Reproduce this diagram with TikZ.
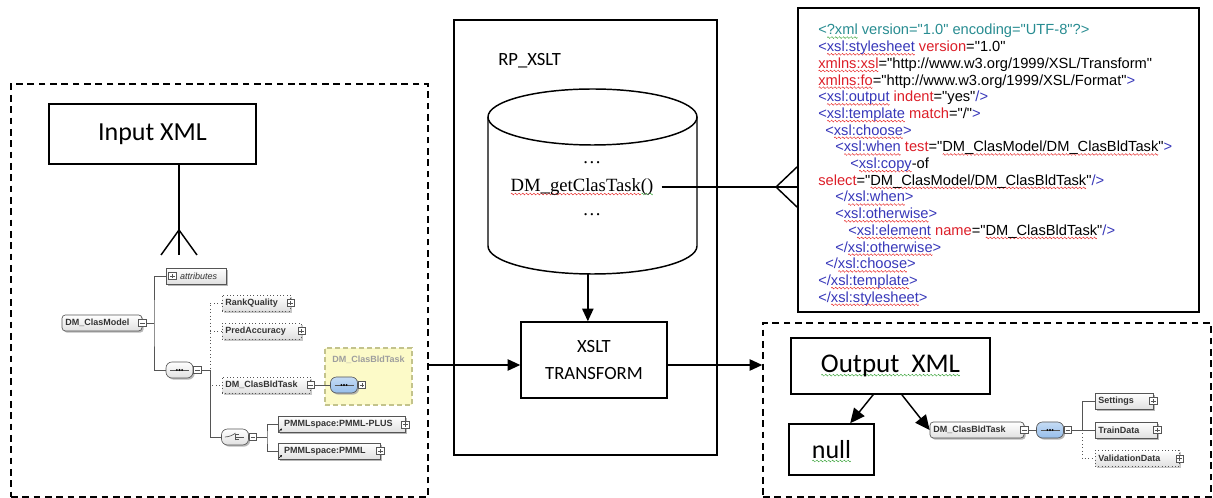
\documentclass[tikz,border=0pt]{standalone}
\usepackage{fontspec}
\usetikzlibrary{arrows.meta,shadows}

\newfontfamily\calibri{Carlito}
\newfontfamily\arialf{Liberation Sans}
\newfontfamily\timesf{Liberation Serif}

\definecolor{xteal}{RGB}{40,140,145}
\definecolor{xblue}{RGB}{55,55,185}
\definecolor{xred}{RGB}{220,30,40}
\definecolor{sqred}{RGB}{230,40,40}
\definecolor{sqgreen}{RGB}{60,165,60}
\definecolor{treegray}{RGB}{85,85,85}
\definecolor{seqblue}{RGB}{150,190,235}
\definecolor{yellowbg}{RGB}{252,250,200}
\definecolor{yellowln}{RGB}{195,195,140}

% wavy spell-check underline: one wave period is stored in a box and repeated
\newsavebox\wvr
\newsavebox\wvg
\newsavebox\wvtmp
\newcommand\wavepiece[1]{\begin{pgfpicture}
  \pgfsetlinewidth{0.35pt}\pgfsetstrokecolor{#1}
  \pgfpathmoveto{\pgfpoint{0pt}{0pt}}
  \pgfpathcurveto{\pgfpoint{0.4pt}{0.9pt}}{\pgfpoint{0.8pt}{0.9pt}}{\pgfpoint{1.2pt}{0pt}}
  \pgfpathcurveto{\pgfpoint{1.6pt}{-0.9pt}}{\pgfpoint{2pt}{-0.9pt}}{\pgfpoint{2.4pt}{0pt}}
  \pgfusepath{stroke}\end{pgfpicture}}
\newcommand\wv[2]{\sbox\wvtmp{#2}\rlap{\raisebox{-3pt}[0pt][0pt]{\hbox to\wd\wvtmp{\xleaders\copy#1\hfil}}}\usebox\wvtmp}
\newcommand\xt[1]{\textcolor{xblue}{#1}}
\newcommand\xa[1]{\textcolor{xred}{#1}}

\tikzset{
  box/.style={draw, line width=1.1pt, inner sep=0pt},
  dbox/.style={draw, line width=1.1pt, dash pattern=on 5pt off 3.5pt, inner sep=0pt},
  link/.style={line width=1.1pt},
  arr/.style={link, -{Triangle[length=9.5pt,width=8.5pt]}},
  codeline/.style={anchor=base west, inner sep=0pt, font=\arialf\fontsize{11pt}{12.5pt}\selectfont},
  tree/.style={draw=treegray, line width=0.6pt},
  elem/.style={draw=treegray, line width=0.5pt, top color=white, bottom color=black!12,
    text=black!80, font=\arialf\bfseries\fontsize{6.75pt}{8pt}\selectfont,
    minimum height=12pt, inner ysep=0pt, inner xsep=2.5pt, align=left,
    drop shadow={shadow xshift=1.2pt, shadow yshift=-1.2pt, fill=black!35, opacity=0.8}},
  optel/.style={elem, dotted, line width=0.7pt,
    drop shadow={shadow xshift=1.2pt, shadow yshift=-1.2pt, fill=black!20, opacity=0.8}},
  pmbox/.style={draw=treegray, fill=white, line width=0.4pt, minimum size=5.5pt, inner sep=0pt},
  plusb/.style={pmbox, path picture={
    \draw[line width=0.4pt] ([xshift=1.1pt]path picture bounding box.west) -- ([xshift=-1.1pt]path picture bounding box.east)
      ([yshift=1.1pt]path picture bounding box.south) -- ([yshift=-1.1pt]path picture bounding box.north);}},
  minusb/.style={pmbox, path picture={
    \draw[line width=0.4pt] ([xshift=1.1pt]path picture bounding box.west) -- ([xshift=-1.1pt]path picture bounding box.east);}},
  comp/.style={draw=treegray, line width=0.5pt, rounded corners=4.5pt, minimum width=20.25pt,
    minimum height=12pt, inner sep=0pt, top color=white, bottom color=black!12,
    drop shadow={shadow xshift=1.2pt, shadow yshift=-1.2pt, fill=black!35, opacity=0.8}},
  bluecomp/.style={comp, top color=seqblue!55, bottom color=seqblue},
  seqmark/.style={path picture={
    \draw[line width=0.5pt] ([xshift=3pt]path picture bounding box.west) -- ([xshift=-3pt]path picture bounding box.east);
    \foreach \d in {-2pt,0pt,2pt} \fill ([xshift=\d]path picture bounding box.center) circle (0.8pt);}},
  choicemark/.style={path picture={
    \draw[line width=0.5pt] ([xshift=-7pt]path picture bounding box.center) -- ([xshift=-3pt]path picture bounding box.center)
      -- ([xshift=-0.5pt,yshift=2.2pt]path picture bounding box.center);
    \draw[line width=0.6pt] ([xshift=0.5pt,yshift=-2.6pt]path picture bounding box.center) -- ([xshift=0.5pt,yshift=2.6pt]path picture bounding box.center);
    \foreach \d in {-2pt,0pt,2pt}
      \draw[line width=0.4pt] ([xshift=0.5pt,yshift=\d]path picture bounding box.center) -- ([xshift=3pt,yshift=\d]path picture bounding box.center);
    \draw[line width=0.5pt] ([xshift=3pt]path picture bounding box.center) -- ([xshift=6.5pt]path picture bounding box.center);}},
  refmark/.style={line width=0.4pt, -{Stealth[length=1.6pt,width=1.6pt]}}
}

\begin{document}
\sbox\wvr{\wavepiece{sqred}}
\sbox\wvg{\wavepiece{sqgreen}}
\begin{tikzpicture}[x=0.75pt, y=-0.75pt]
\useasboundingbox (0,0) rectangle (1213,498);

% ---------------- input side ----------------
\node[dbox, minimum width=312.75pt, minimum height=309.75pt] (inbox) at (219.5,290.5) {};
\node[box, minimum width=155.25pt, minimum height=45pt, font=\calibri\fontsize{19.5pt}{22pt}\selectfont] (inxml) at (152.5,134) {Input XML};

% many-end of the Input XML connector
\coordinate (infoot) at (179,255);
\draw[link] (inxml.south -| infoot) -- (infoot);
\draw[link] ([xshift=-13.5pt]infoot) -- ([yshift=18.75pt]infoot) -- ([xshift=13.5pt]infoot);

% schema tree of DM_ClasModel
\node[elem, text width=55pt, rounded corners=2.5pt] (cm) at (102,323) {DM\_ClasModel};
\node[minusb] (cmm) at (cm.east) {};
\node[elem, text width=40pt, font=\arialf\itshape\fontsize{6.75pt}{8pt}\selectfont] (attr) at (196,276) {\hspace*{8pt}attributes};
\node[plusb] (attrp) at ([xshift=5pt]attr.west) {};
\node[comp, seqmark] (seq1) at (179.5,370) {};
\node[minusb] (s1m) at ([xshift=3pt]seq1.east) {};

\node[optel, text width=46pt] (rq) at (256,303) {RankQuality};
\node[plusb] (rqp) at (rq.east) {};
\node[optel, text width=54.25pt] (pa) at (261.5,331) {PredAccuracy};
\node[plusb] (pap) at (pa.east) {};
\node[optel, text width=61pt] (bt1) at (266,385) {DM\_ClasBldTask};
\node[minusb] (bt1m) at (bt1.east) {};

\node[draw=yellowln, fill=yellowbg, dash pattern=on 4pt off 2pt, line width=0.8pt,
      minimum width=65.25pt, minimum height=42.75pt] (ybox) at (368.5,376.5) {};
\node[font=\arialf\bfseries\fontsize{6.75pt}{8pt}\selectfont, text=black!38] (ytitle) at (368.5,360) {DM\_ClasBldTask};
\node[bluecomp, seqmark] (seqb1) at (344,385) {};
\node[plusb] (sb1p) at ([xshift=3pt]seqb1.east) {};

\node[comp, choicemark] (ch) at (235,437) {};
\node[minusb] (chm) at ([xshift=3pt]ch.east) {};
\node[elem, text width=90.25pt] (pp) at (341.5,424.5) {\hspace*{2pt}PMMLspace:PMML-PLUS};
\node[plusb] (ppp) at (pp.east) {};
\node[elem, text width=71.5pt] (pm) at (329,451) {\hspace*{2pt}PMMLspace:PMML};
\node[plusb] (pmp) at (pm.east) {};
\draw[refmark] ([shift={(1pt,1pt)}]pp.south west) -- ++(2.2pt,2.2pt);
\draw[refmark] ([shift={(1pt,1pt)}]pm.south west) -- ++(2.2pt,2.2pt);

\coordinate (j1) at (154,323);
\coordinate (j2) at (210,370);
\coordinate (j3) at (267,437);
\draw[tree] (cmm.east) -- (j1);
\draw[tree] (attr.west) -| (j1) |- (seq1.west);
\draw[tree] (s1m.east) -- (j2);
\draw[tree, dotted, line width=0.7pt] (rq.west) -| (j2);
\draw[tree, dotted, line width=0.7pt] (pa.west) -- (pa.west -| j2);
\draw[tree, dotted, line width=0.7pt] (j2) |- (bt1.west);
\draw[tree] (j2) |- (ch.west);
\draw[tree] (bt1m.east) -- (seqb1.west);
\draw[tree] (chm.east) -- (j3);
\draw[tree] (pp.west) -| (j3) |- (pm.west);

% ---------------- RP_XSLT ----------------
\node[draw, line width=1.8pt, minimum width=197.25pt, minimum height=326.25pt] (rpbox) at (585.5,237.5) {};
\node[anchor=west, inner sep=0pt, font=\calibri\fontsize{14pt}{16pt}\selectfont] (rplabel) at (498,61) {RP\_XSLT};

% function store (cylinder)
\node[minimum width=156.75pt, minimum height=138.75pt, inner sep=0pt] (store) at (592.5,181.5) {};
\draw[line width=1.1pt] (592.5,117) ellipse [x radius=104.5, y radius=28];
\draw[line width=1.1pt] (488,117) -- (488,246) arc[start angle=180, end angle=0, x radius=104.5, y radius=28] -- (697,117);
\node[font=\timesf\fontsize{14pt}{16pt}\selectfont] (dots1) at (592,163) {…};
\node[font=\timesf\fontsize{14pt}{16pt}\selectfont, inner xsep=6pt] (gettask) at (582,187) {\wv{\wvr}{DM\_getClasTask}\wv{\wvg}{()}};
\node[font=\timesf\fontsize{14pt}{16pt}\selectfont] (dots2) at (592,215) {…};

\node[box, minimum width=109.5pt, minimum height=57pt, align=center,
      font=\calibri\fontsize{14pt}{20.25pt}\selectfont] (xslt) at (594,360) {XSLT\\TRANSFORM};
\draw[arr] ([xshift=-3.5pt]store.south) -- ([xshift=-3.5pt]store.south |- xslt.north);

\coordinate (tin) at ([yshift=-3.75pt]xslt.west);
\coordinate (tout) at ([yshift=-3.75pt]xslt.east);
\draw[arr] (inbox.east |- tin) -- (tin);

% ---------------- stylesheet ----------------
\node[draw, line width=1.5pt, minimum width=300.75pt, minimum height=228pt] (codebox) at (998.5,160) {};
\draw[link] (gettask.east) -- (gettask.east -| codebox.west);
\coordinate (cfork) at (776,187);
\draw[link] (codebox.west |- 0,167) -- (cfork) -- (codebox.west |- 0,207);

\node[codeline] (c1)  at (818,35)    {\textcolor{xteal}{<\wv{\wvg}{?xml} version="1.0" encoding="UTF-8"?>}};
\node[codeline] (c2)  at (818,51.7)  {\xt{<\wv{\wvr}{xsl:stylesheet}} \xa{version}="1.0"};
\node[codeline] (c3)  at (818,68.4)  {\xa{\wv{\wvr}{xmlns:xsl}}="http://www.w3.org/1999/XSL/Transform"};
\node[codeline] (c4)  at (818,85.1)  {\xa{\wv{\wvr}{xmlns:fo}}="http://www.w3.org/1999/XSL/Format"\xt{>}};
\node[codeline] (c5)  at (818,101.8) {\xt{<\wv{\wvr}{xsl:output}} \xa{indent}="yes"\xt{/>}};
\node[codeline] (c6)  at (818,118.5) {\xt{<\wv{\wvr}{xsl:template}} \xa{match}="/"\xt{>}};
\node[codeline] (c7)  at (825,135.2) {\xt{<\wv{\wvr}{xsl:choose}>}};
\node[codeline] (c8)  at (835,151.9) {\xt{<\wv{\wvr}{xsl:when}} \xa{test}="\wv{\wvr}{DM\_ClasModel/DM\_ClasBldTask}"\xt{>}};
\node[codeline] (c9)  at (850,168.6) {\xt{<\wv{\wvr}{xsl:copy}}-of};
\node[codeline] (c10) at (818,185.3) {\xa{select}="\wv{\wvr}{DM\_ClasModel/DM\_ClasBldTask}"\xt{/>}};
\node[codeline] (c11) at (835,202)   {\xt{</\wv{\wvr}{xsl:when}>}};
\node[codeline] (c12) at (835,218.7) {\xt{<\wv{\wvr}{xsl:otherwise}>}};
\node[codeline] (c13) at (848,235.4) {\xt{<\wv{\wvr}{xsl:element}} \xa{name}="\wv{\wvr}{DM\_ClasBldTask}"\xt{/>}};
\node[codeline] (c14) at (835,252.1) {\xt{</\wv{\wvr}{xsl:otherwise}>}};
\node[codeline] (c15) at (825,268.8) {\xt{</\wv{\wvr}{xsl:choose}>}};
\node[codeline] (c16) at (818,285.5) {\xt{</\wv{\wvr}{xsl:template}>}};
\node[codeline] (c17) at (818,302.2) {\xt{</\wv{\wvr}{xsl:stylesheet}>}};

% ---------------- output side ----------------
\node[dbox, minimum width=336pt, minimum height=130.5pt] (outbox) at (987,410) {};
\draw[arr] (tout) -- (outbox.west |- tout);

\node[box, minimum width=149.25pt, minimum height=42pt, font=\calibri\fontsize{20.25pt}{22pt}\selectfont] (outxml) at (890.5,366) {\wv{\wvg}{Output~~XML}};
\node[box, minimum width=63.75pt, minimum height=38.25pt, font=\calibri\fontsize{19.5pt}{22pt}\selectfont] (null) at (831.5,449.5) {\wv{\wvg}{null}};

\node[elem, text width=65.5pt, rounded corners=2.5pt] (bt2) at (977,430) {DM\_ClasBldTask};
\node[minusb] (bt2m) at (bt2.east) {};
\node[bluecomp, seqmark] (seqb2) at (1050,430) {};
\node[minusb] (sb2m) at ([xshift=3pt]seqb2.east) {};
\node[elem, text width=38.5pt] (st) at (1124,401) {Settings};
\node[plusb] (stp) at (st.east) {};
\node[elem, text width=41.5pt] (td) at (1126,430) {TrainData};
\node[plusb] (tdp) at (td.east) {};
\node[optel, text width=58pt] (vd) at (1137,458.5) {ValidationData};
\node[plusb] (vdp) at (vd.east) {};

\coordinate (j4) at (1082,430);
\draw[tree] (bt2m.east) -- (seqb2.west);
\draw[tree] (sb2m.east) -- (j4);
\draw[tree] (st.west) -| (j4) -- (td.west);
\draw[tree, dotted, line width=0.7pt] (j4) |- (vd.west);

\draw[arr, -{Triangle[length=11pt,width=10pt]}] ([xshift=-13pt]outxml.south) -- ([xshift=14pt]null.north);
\draw[arr, -{Triangle[length=11pt,width=10pt]}] ([xshift=8.5pt]outxml.south) -- (bt2.west);
\end{tikzpicture}
\end{document}
